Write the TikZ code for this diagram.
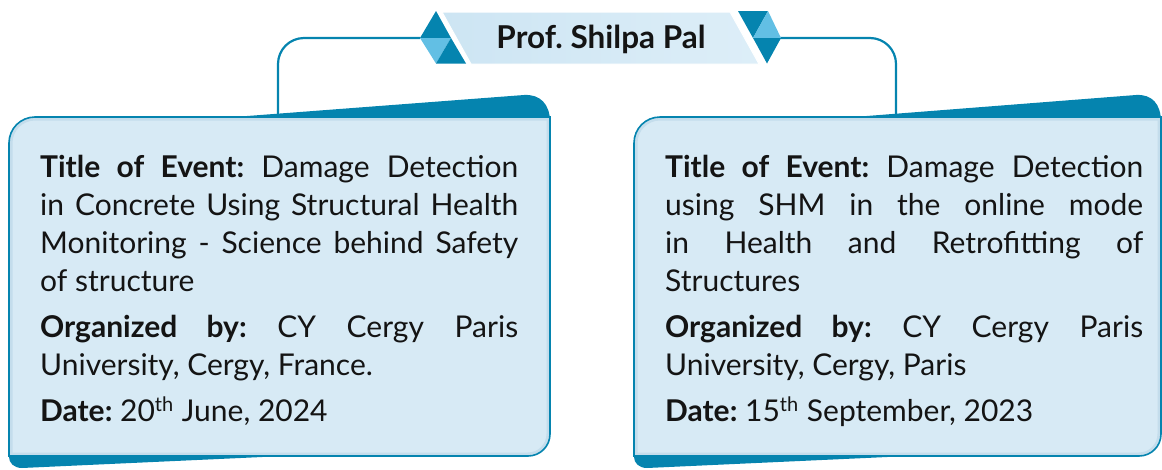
\documentclass[tikz,border=0pt]{standalone}
\usepackage{fontspec}
\setmainfont{Lato}
\usetikzlibrary{calc}
\definecolor{dkblue}{HTML}{0584AF}
\definecolor{ltri}{HTML}{62BFE4}
\definecolor{boxfill}{HTML}{D7EAF5}
\definecolor{boxglow}{HTML}{C4DDEC}
\definecolor{bandL}{HTML}{CDE5F3}
\definecolor{bandR}{HTML}{DDEEF8}
\newcommand{\cardshape}[4]{(#1,#2+26) .. controls (#1,#2+11.6) and (#1+11.6,#2) .. (#1+26,#2) -- (#3,#2) -- (#3,#4-22) .. controls (#3,#4-9.8) and (#3-9.8,#4) .. (#3-22,#4) -- (#1,#4) -- cycle}
\newcommand{\supth}{\raisebox{10pt}{\fontsize{20}{20}\selectfont th}\hspace{1pt}}
\tikzset{
  conn/.style={draw=dkblue, line width=2.2pt, rounded corners=26pt},
  wedge/.style={fill=dkblue},
  cardtext/.style={anchor=north west, inner sep=0pt, text width=478pt, align=justify,
    font=\fontsize{30}{38}\selectfont\frenchspacing, text=black!92},
  titletext/.style={inner sep=0pt, font=\fontsize{31.5}{34}\selectfont\bfseries\frenchspacing, text=black!92},
}
\begin{document}
\begin{tikzpicture}[x=1pt,y=-1pt]
\useasboundingbox (0,0) rectangle (1162,469);
% ---------- connectors ----------
\coordinate (decL) at (420,38);
\coordinate (decR) at (780,38);
\coordinate (cardLtop) at (278,115);
\coordinate (cardRtop) at (896,115);
\draw[conn] (decL) -| (cardLtop);
\draw[conn] (decR) -| (cardRtop);
% ---------- left card ----------
\fill[wedge] (230,118) -- (230,117.3) -- (524,95) .. controls (540,94) and (550,104) .. (550,122) -- (550,125) -- cycle;
\fill[wedge] (9,450) -- (9,457) .. controls (9,463) and (14,468) .. (22,468) -- (295,455.5) -- (295,450) -- cycle;
\fill[boxfill] \cardshape{9}{117}{550}{456};
\begin{scope}
\clip \cardshape{9}{117}{550}{456};
\draw[boxglow, line width=7pt] \cardshape{9}{117}{550}{456};
\end{scope}
\draw[dkblue, line width=1.6pt] \cardshape{9}{117}{550}{456};
% ---------- right card ----------
\fill[wedge] (850,118) -- (850,117.3) -- (1136,95) .. controls (1152,94) and (1161,104) .. (1161,122) -- (1161,125) -- cycle;
\fill[wedge] (634,450) -- (634,457) .. controls (634,463) and (639,468) .. (647,468) -- (920,455.5) -- (920,450) -- cycle;
\fill[boxfill] \cardshape{634}{117}{1161}{456};
\begin{scope}
\clip \cardshape{634}{117}{1161}{456};
\draw[boxglow, line width=7pt] \cardshape{634}{117}{1161}{456};
\end{scope}
\draw[dkblue, line width=1.6pt] \cardshape{634}{117}{1161}{456};
% ---------- banner ----------
\shade[left color=bandL, right color=bandR, draw=white, line width=1pt] (442,12) -- (730,12) -- (759,64) -- (471,64) -- cycle;
% left decoration
\fill[dkblue] (436,11) -- (420,38) -- (451,38) -- cycle;
\fill[ltri] (420,38) -- (451,38) -- (436,63.5) -- cycle;
\fill[dkblue] (451,38) -- (436,63.5) -- (466,63.5) -- cycle;
% right decoration
\fill[dkblue] (738,11) -- (768,11) -- (753,38) -- cycle;
\fill[ltri] (768,11) -- (753,38) -- (781,38) -- cycle;
\fill[dkblue] (753,38) -- (781,38) -- (767,63.5) -- cycle;
\node[titletext] (title) at (601,39) {Prof. Shilpa Pal};
% ---------- texts ----------
\node[cardtext] (t1) at (40,155.5) {\textbf{Title of Event:} Damage Detection\linebreak in Concrete Using Structural Health\linebreak Monitoring - Science behind Safety\linebreak of structure\par\vspace{8pt}
\textbf{Organized by:} CY Cergy Paris\linebreak University, Cergy, France.\par\vspace{8pt}
\textbf{Date:} 20\supth{} June, 2024};
\node[cardtext] (t2) at (665,155.5) {\textbf{Title of Event:} Damage Detection\linebreak using SHM in the online mode\linebreak in Health and Retrofitting of\linebreak Structures\par\vspace{8pt}
\textbf{Organized by:} CY Cergy Paris\linebreak University, Cergy, Paris\par\vspace{8pt}
\textbf{Date:} 15\supth{} September, 2023};
\end{tikzpicture}
\end{document}
